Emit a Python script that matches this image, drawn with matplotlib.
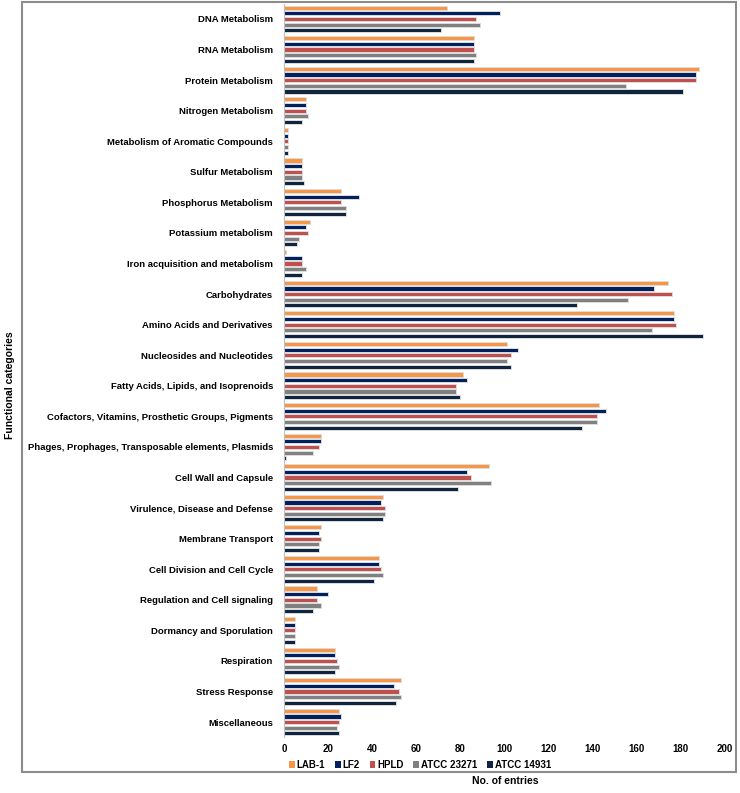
import matplotlib
matplotlib.use("Agg")
import matplotlib.pyplot as plt
from matplotlib import font_manager
import numpy as np
from matplotlib.patches import Rectangle, Patch

# pick the regular-width Liberation Sans Bold file (not the Narrow one)
bold_file = None
for f in font_manager.findSystemFonts():
    if f.endswith("LiberationSans-Bold.ttf"):
        bold_file = f
        break
if bold_file:
    font_manager.fontManager.addfont(bold_file)
    fam = font_manager.FontProperties(fname=bold_file).get_name()
else:
    fam = "DejaVu Sans"
plt.rcParams["font.family"] = [fam, "DejaVu Sans"]


def bold(size):
    if bold_file:
        return font_manager.FontProperties(fname=bold_file, size=size)
    return font_manager.FontProperties(weight="bold", size=size)


categories = [
    "DNA Metabolism", "RNA Metabolism", "Protein Metabolism", "Nitrogen Metabolism",
    "Metabolism of Aromatic Compounds", "Sulfur Metabolism", "Phosphorus Metabolism",
    "Potassium metabolism", "Iron acquisition and metabolism", "Carbohydrates",
    "Amino Acids and Derivatives", "Nucleosides and Nucleotides",
    "Fatty Acids, Lipids, and Isoprenoids",
    "Cofactors, Vitamins, Prosthetic Groups, Pigments",
    "Phages, Prophages, Transposable elements, Plasmids", "Cell Wall and Capsule",
    "Virulence, Disease and Defense", "Membrane Transport",
    "Cell Division and Cell Cycle", "Regulation and Cell signaling",
    "Dormancy and Sporulation", "Respiration", "Stress Response", "Miscellaneous",
]

series_names = ["LAB-1", "LF2", "HPLD", "ATCC 23271", "ATCC 14931"]

lab1 = [74, 86, 188, 10, 2, 8, 26, 12, 1, 174, 177, 101, 81, 143, 17, 93, 45, 17, 43, 15, 5, 23, 53, 25]
lf2 = [98, 86, 187, 10, 2, 8, 34, 10, 8, 168, 177, 106, 83, 146, 17, 83, 44, 16, 43, 20, 5, 23, 50, 26]
hpld = [87, 86, 187, 10, 2, 8, 26, 11, 8, 176, 178, 103, 78, 142, 16, 85, 46, 17, 44, 15, 5, 24, 52, 25]
atcc23271 = [89, 87, 155, 11, 2, 8, 28, 7, 10, 156, 167, 101, 78, 142, 13, 94, 46, 16, 45, 17, 5, 25, 53, 24]
atcc14931 = [71, 86, 181, 8, 2, 9, 28, 6, 8, 133, 190, 103, 80, 135, 1, 79, 45, 16, 41, 13, 5, 23, 51, 25]

colors = ["#F79646", "#002060", "#C0504D", "#808080", "#0F243E"]

fig = plt.figure(figsize=(7.4, 7.93), dpi=100)
ax = fig.add_axes([284 / 740, 1 - 737.4 / 793, (725 - 284) / 740, 733.7 / 793])

y = np.arange(len(categories))
step = 0.185
for i, (vals, name, c) in enumerate(zip([lab1, lf2, hpld, atcc23271, atcc14931], series_names, colors)):
    ax.barh(y + (i - 2) * step, vals, height=0.135, color=c, edgecolor="#dcdcdc",
            linewidth=0.7, label=name)

ax.set_ylim(len(categories) - 0.5, -0.5)
ax.set_xlim(0, 200)
ax.set_xticks(range(0, 201, 20))
ax.set_yticks(y)
ax.set_yticklabels(categories)
for lbl in ax.get_yticklabels():
    lbl.set_fontproperties(bold(6.8))
for lbl in ax.get_xticklabels():
    lbl.set_fontproperties(bold(7))
ax.tick_params(axis="both", length=0, pad=5)
ax.tick_params(axis="y", pad=8)
for side in ["top", "right", "bottom"]:
    ax.spines[side].set_visible(False)
ax.spines["left"].set_color("#bfbfbf")

fig.text(505 / 740, 1 - 781 / 793, "No. of entries", ha="center", va="center",
         fontproperties=bold(7.5))
fig.text(10 / 740, 1 - 385 / 793, "Functional categories", ha="center", va="center",
         rotation=90, fontproperties=bold(7.5))

handles = [Patch(facecolor=c, edgecolor="none") for c in colors]
fig.legend(handles, series_names, loc="center", bbox_to_anchor=(420 / 740, 1 - 765 / 793),
           ncol=5, frameon=False, prop=bold(7),
           handlelength=0.6, handleheight=0.6, handletextpad=0.2, columnspacing=1.0)

fig.patches.append(Rectangle((22 / 740, 1 - 772 / 793), (736 - 22) / 740, 770 / 793,
                             transform=fig.transFigure, fill=False,
                             edgecolor="#8c8c8c", linewidth=1.5))

fig.savefig("out.png", dpi=100)
